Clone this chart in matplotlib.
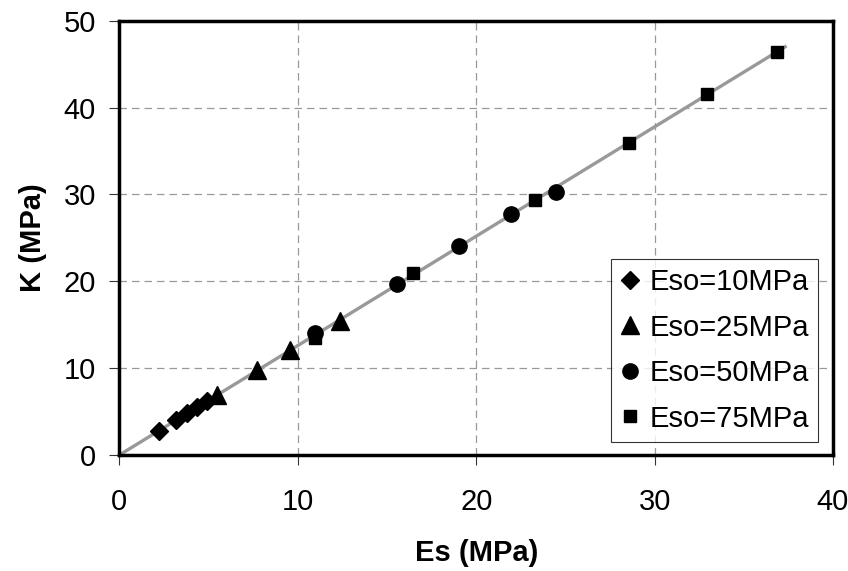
import matplotlib
matplotlib.use("Agg")
import matplotlib.pyplot as plt
import numpy as np

plt.rcParams['font.family'] = ['Liberation Sans', 'DejaVu Sans']

# Data
es_10 = [2.24, 3.15, 3.81, 4.37, 4.89]
k_10 = [2.80, 4.03, 4.80, 5.49, 6.25]
es_25 = [5.49, 7.69, 9.56, 12.36]
k_25 = [6.85, 9.75, 12.05, 15.45]
es_50 = [10.96, 15.54, 19.02, 21.93, 24.49]
k_50 = [14.1, 19.69, 24.06, 27.75, 30.3]
es_75 = [10.96, 16.44, 23.3, 28.55, 32.92, 36.84]
k_75 = [13.5, 20.9, 29.4, 35.9, 41.6, 46.4]
labels = ['Eso=10MPa', 'Eso=25MPa', 'Eso=50MPa', 'Eso=75MPa']
trend_x = [0, 37.4]
x_ticks = [0, 10, 20, 30, 40]
y_ticks = [0, 10, 20, 30, 40, 50]

all_x = np.array(es_10 + es_25 + es_50 + es_75)
all_y = np.array(k_10 + k_25 + k_50 + k_75)
slope = np.sum(all_x * all_y) / np.sum(all_x * all_x)

fig = plt.figure(figsize=(8.48, 5.71), dpi=100)
ax = fig.add_axes([0.1408, 0.2032, 0.8415, 0.7605])

ax.plot(trend_x, slope * np.array(trend_x), color='#999999', lw=2.4, zorder=2,
        solid_capstyle='butt')
ax.plot(es_10, k_10, 'D', color='black', ms=9.5, ls='none', label=labels[0], zorder=3)
ax.plot(es_25, k_25, '^', color='black', ms=12.5, ls='none', label=labels[1], zorder=3)
ax.plot(es_50, k_50, 'o', color='black', ms=11, ls='none', label=labels[2], zorder=3)
ax.plot(es_75, k_75, 's', color='black', ms=8.5, ls='none', label=labels[3], zorder=3)

ax.set_xlim(0, 40)
ax.set_ylim(0, 50)
ax.set_xticks(x_ticks)
ax.set_yticks(y_ticks)
ax.grid(True, color='#999999', ls=(0, (6, 4)), lw=0.9, zorder=0)
ax.set_axisbelow(True)
for s in ax.spines.values():
    s.set_linewidth(2.5)
    s.set_color('black')
ax.tick_params(direction='out', length=7, width=0.8, labelsize=21, pad=10, color='#333333')
ax.tick_params(axis='x', pad=17)

ax.set_xlabel('Es (MPa)', fontsize=21, fontweight='bold', labelpad=16)
ax.set_ylabel('K (MPa)', fontsize=21, fontweight='bold', labelpad=12)

leg = ax.legend(loc='lower right', bbox_to_anchor=(0.979, 0.030), borderaxespad=0,
                fontsize=21, frameon=True, fancybox=False, edgecolor='black',
                handlelength=0.7, handletextpad=0.3, labelspacing=0.6,
                borderpad=0.32, numpoints=1)
leg.get_frame().set_linewidth(0.8)

fig.savefig('out.png', dpi=100)
